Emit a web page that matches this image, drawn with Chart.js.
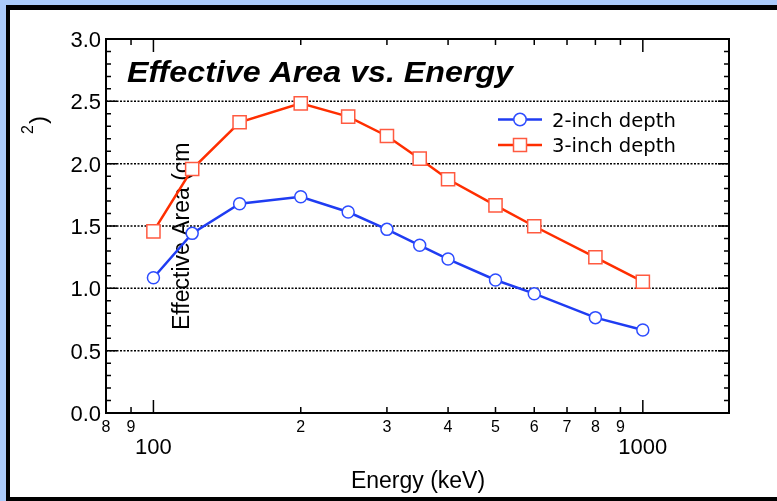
<!DOCTYPE html>
<html>
<head>
<meta charset="utf-8">
<script src="https://cdn.jsdelivr.net/npm/chart.js@4/dist/chart.umd.min.js"></script>
<style>
  html, body { margin: 0; padding: 0; background: #abcbfa; }
  canvas { display: block; }
</style>
</head>
<body>
<canvas id="c" width="777" height="501"></canvas>
<script>
// Effective area of the detector versus photon energy, for two crystal depths
const energies   = [100, 120, 150, 200, 250, 300, 350, 400, 500, 600, 800, 1000];
const area2inch  = [1.085, 1.441, 1.679, 1.735, 1.612, 1.473, 1.345, 1.235, 1.067, 0.957, 0.765, 0.666];
const area3inch  = [1.457, 1.957, 2.332, 2.484, 2.377, 2.222, 2.040, 1.875, 1.666, 1.498, 1.249, 1.053];
const seriesNames = ['2-inch depth', '3-inch depth'];

const chartTitle = 'Effective Area vs. Energy';
const xTitle = 'Energy (keV)';
const yTitleMain = 'Effective Area (cm';
const yTitleSup = '2';
const yTitleEnd = ')';

const yTickValues = [0, 0.5, 1, 1.5, 2, 2.5, 3];
const yTickLabels = ['0.0', '0.5', '1.0', '1.5', '2.0', '2.5', '3.0'];
const xMinorTicks  = [80, 90, 200, 300, 400, 500, 600, 700, 800, 900];
const xMinorLabels = ['8', '9', '2', '3', '4', '5', '6', '7', '8', '9'];
const xMajorTicks  = [100, 1000];
const xMajorLabels = ['100', '1000'];

const SANS = '"Liberation Sans", Arial, Helvetica, sans-serif';
const LEGEND_FONT = '"DejaVu Sans", "Lucida Grande", sans-serif';

const colors = {
  line2: '#1f3cf2', point2: '#2d4cff',
  line3: '#ff2e00', point3: '#ff5a40'
};

const axesPlugin = {
  id: 'plotFrame',
  beforeDraw(chart) {
    const c = chart.ctx;
    c.save();
    c.fillStyle = '#abcbfa';
    c.fillRect(0, 0, chart.width, chart.height);
    c.fillStyle = '#000';
    c.fillRect(6, 5, chart.width - 6, chart.height - 5);
    c.fillStyle = '#fff';
    c.fillRect(10, 10, chart.width - 10, chart.height - 14);
    c.restore();
  },
  beforeDatasetsDraw(chart) {
    const c = chart.ctx, a = chart.chartArea;
    const xs = chart.scales.x, ys = chart.scales.y;
    c.save();

    // dotted horizontal gridlines
    c.strokeStyle = '#000';
    c.lineWidth = 1.5;
    c.setLineDash([2, 1.5]);
    yTickValues.forEach(v => {
      if (v <= ys.min || v >= ys.max) return;
      const py = ys.getPixelForValue(v);
      c.beginPath();
      c.moveTo(a.left, py);
      c.lineTo(a.right, py);
      c.stroke();
    });
    c.setLineDash([]);

    c.fillStyle = '#000';
    // y tick labels
    c.font = '22px ' + SANS;
    c.textAlign = 'right';
    c.textBaseline = 'alphabetic';
    yTickValues.forEach((v, i) => {
      c.fillText(yTickLabels[i], 101, ys.getPixelForValue(v) + 8);
    });

    // x tick labels: small digits for minor decades, full numbers for majors
    c.textAlign = 'center';
    c.font = '16px ' + SANS;
    xMinorTicks.forEach((v, i) => {
      c.fillText(xMinorLabels[i], xs.getPixelForValue(v), 432);
    });
    c.font = '22px ' + SANS;
    xMajorTicks.forEach((v, i) => {
      c.fillText(xMajorLabels[i], xs.getPixelForValue(v), 454);
    });

    // x axis title
    c.font = '23px ' + SANS;
    c.fillText(xTitle, 418, 488);

    // y axis title (rotated)
    c.textAlign = 'left';
    c.save();
    c.translate(188.5, 330);
    c.rotate(-Math.PI / 2);
    c.font = '23px ' + SANS;
    c.fillText(yTitleMain, 0, 0);
    c.restore();

    c.save();
    c.translate(46, 134);
    c.rotate(-Math.PI / 2);
    c.font = '16px ' + SANS;
    c.fillText(yTitleSup, 0, -13);
    const supW = c.measureText(yTitleSup).width;
    c.font = '24px ' + SANS;
    c.fillText(yTitleEnd, supW + 1, 0);
    c.restore();

    // chart title
    c.font = 'bold italic 30px ' + SANS;
    const tw = c.measureText(chartTitle).width;
    c.save();
    c.translate(127, 82);
    c.scale(386 / tw, 1);
    c.fillText(chartTitle, 0, 0);
    c.restore();

    c.restore();
  },
  afterDatasetsDraw(chart) {
    const c = chart.ctx, a = chart.chartArea;
    const xs = chart.scales.x, ys = chart.scales.y;
    c.save();

    // axis box
    c.strokeStyle = '#000';
    c.lineWidth = 2;
    c.strokeRect(a.left, a.top, a.right - a.left, a.bottom - a.top);

    // y ticks on both sides, pointing inward
    c.lineWidth = 1.5;
    for (let i = 0; i <= 30; i++) {
      const py = ys.getPixelForValue(i / 10);
      const len = (i % 5 === 0) ? 11 : 5;
      c.beginPath();
      c.moveTo(a.left, py); c.lineTo(a.left + len, py);
      c.moveTo(a.right, py); c.lineTo(a.right - len, py);
      c.stroke();
    }
    // x ticks on bottom and top, pointing inward
    const xTick = (v, len) => {
      const px = xs.getPixelForValue(v);
      c.beginPath();
      c.moveTo(px, a.bottom); c.lineTo(px, a.bottom - len);
      c.moveTo(px, a.top); c.lineTo(px, a.top + len);
      c.stroke();
    };
    xMinorTicks.forEach(v => xTick(v, 6));
    xMajorTicks.forEach(v => xTick(v, 13));

    // legend
    const items = [
      { name: seriesNames[0], line: colors.line2, point: colors.point2, style: 'circle', y: 119.5 },
      { name: seriesNames[1], line: colors.line3, point: colors.point3, style: 'rect', y: 145 }
    ];
    items.forEach(it => {
      c.strokeStyle = it.line;
      c.lineWidth = 2.5;
      c.beginPath();
      c.moveTo(498, it.y); c.lineTo(542, it.y);
      c.stroke();
      c.fillStyle = '#fff';
      c.strokeStyle = it.point;
      c.lineWidth = 1.5;
      c.beginPath();
      if (it.style === 'circle') {
        c.arc(520, it.y, 6.2, 0, Math.PI * 2);
      } else {
        c.rect(513.5, it.y - 6.5, 13, 13);
      }
      c.fill();
      c.stroke();
      c.fillStyle = '#000';
      c.font = '19.6px ' + LEGEND_FONT;
      c.textAlign = 'left';
      c.fillText(it.name, 552, it.y + 7);
    });

    c.restore();
  }
};

new Chart(document.getElementById('c'), {
  type: 'line',
  data: {
    datasets: [
      {
        label: seriesNames[0],
        data: energies.map((e, i) => ({ x: e, y: area2inch[i] })),
        borderColor: colors.line2,
        borderWidth: 2.5,
        pointStyle: 'circle',
        pointRadius: 6,
        pointBackgroundColor: '#fff',
        pointBorderColor: colors.point2,
        pointBorderWidth: 1.5,
        tension: 0
      },
      {
        label: seriesNames[1],
        data: energies.map((e, i) => ({ x: e, y: area3inch[i] })),
        borderColor: colors.line3,
        borderWidth: 2.5,
        pointStyle: 'rect',
        pointRadius: 9.3,
        pointBackgroundColor: '#fff',
        pointBorderColor: colors.point3,
        pointBorderWidth: 1.5,
        tension: 0
      }
    ]
  },
  options: {
    responsive: false,
    animation: false,
    devicePixelRatio: 1,
    events: [],
    layout: { padding: { left: 106, top: 39, right: 48, bottom: 88 } },
    plugins: { legend: { display: false }, tooltip: { enabled: false }, title: { display: false } },
    scales: {
      x: { type: 'logarithmic', min: 80, max: 1500, display: false },
      y: { type: 'linear', min: 0, max: 3, display: false }
    }
  },
  plugins: [axesPlugin]
});
</script>
</body>
</html>
